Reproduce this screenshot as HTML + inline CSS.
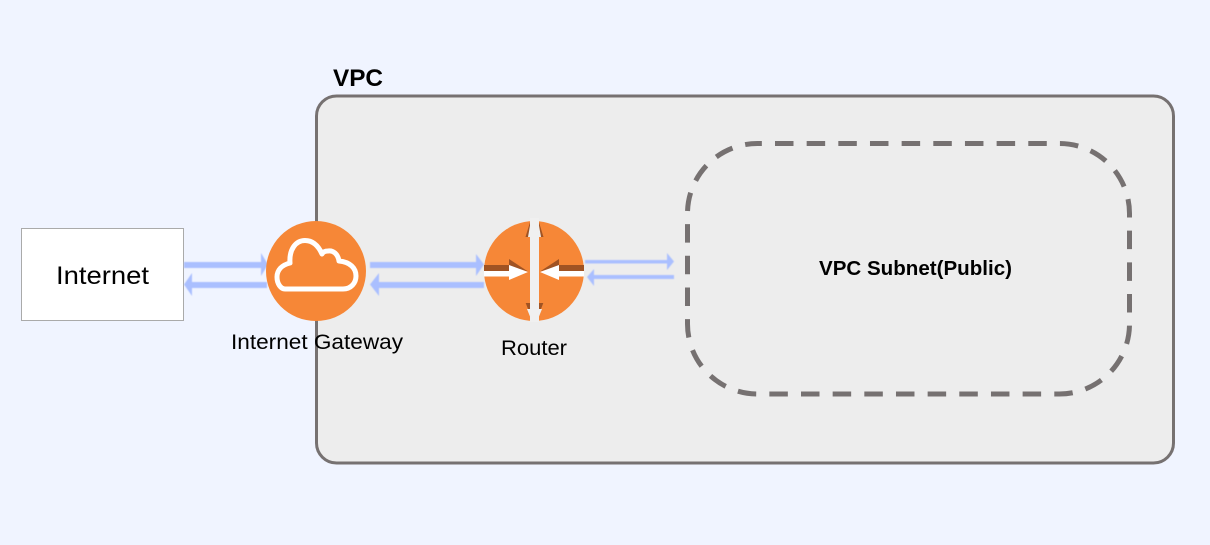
<!DOCTYPE html>
<html>
<head>
<meta charset="utf-8">
<style>
html,body{margin:0;padding:0;background:#f0f4ff;width:1210px;height:545px;overflow:hidden}
svg{display:block}
text{font-family:"Liberation Sans",sans-serif;fill:#000}
</style>
</head>
<body>
<svg width="1210" height="545" viewBox="0 0 1210 545" xmlns="http://www.w3.org/2000/svg">
<defs><filter id="f" x="-5%" y="-20%" width="110%" height="140%"><feGaussianBlur stdDeviation="0.6"/></filter></defs>
<rect width="1210" height="545" fill="#f0f4ff"/>
<rect x="316.5" y="96" width="857" height="367" rx="20" fill="#ededed" stroke="#767171" stroke-width="3"/>
<rect x="687.5" y="143.5" width="442" height="250.500" rx="70" fill="none" stroke="#767171" stroke-width="5" stroke-dasharray="18.500 13.160" stroke-dashoffset="14.160"/>
<text x="333" y="86" font-size="24" font-weight="bold" textLength="50" lengthAdjust="spacingAndGlyphs">VPC</text>
<rect x="21.5" y="228.5" width="162" height="92" fill="#fff" stroke="#aaa" stroke-width="1"/>
<text x="56" y="284" font-size="25" textLength="93" lengthAdjust="spacingAndGlyphs">Internet</text>
<g fill="#aabfff" filter="url(#f)">
<rect x="184" y="262" width="79" height="6"/><polygon points="261,253 268,264.5 261,276"/>
<rect x="190" y="282" width="77" height="6"/><polygon points="192,273 184,284.5 192,296"/>
<rect x="370" y="262" width="108" height="6"/><polygon points="476,254 484,264.5 476,276"/>
<rect x="378" y="282" width="106" height="6"/><polygon points="379,273 370,284.5 379,296"/>
<rect x="585" y="260" width="83" height="3.500"/><polygon points="667,253 674,261.500 667,270"/>
<rect x="593" y="275" width="81" height="4"/><polygon points="594,269 587,277 594,286"/>
</g>
<circle cx="316" cy="271" r="50" fill="#f68737"/>
<path d="M285 289 H343 C351 289 356 283 356 276 C356 268 350 262 339 261 C338 254 333 250 328 251 C325 251 323 252 322 254 C318 245 312 240.500 305 240.500 C296 240.500 289 249 290 263 C282 265 277 270 277 277 C277 284 281 289 285 289 Z" fill="none" stroke="#fff" stroke-width="5" stroke-linejoin="round"/>
<circle cx="534" cy="271" r="50" fill="#f68737"/>
<g fill="#a05323">
<polygon points="530.700,220 525.500,237 528.500,237 531.500,226"/>
<polygon points="538.300,220 543.500,237 540.500,237 537.500,226"/>
<rect x="484" y="265" width="25" height="6"/>
<polygon points="509,259 528,271.500 509,266"/>
<rect x="559" y="265" width="25" height="6"/>
<polygon points="559,259 540,271.500 559,266"/>
<polygon points="525.700,303 531,303 531,309 528,309"/>
<polygon points="543.300,303 538,303 538,309 541,309"/>
</g>
<g fill="#f0f0f0">
<rect x="530" y="218" width="9" height="104"/>
<polygon points="531,220 538,220 541,237 528,237"/>
<polygon points="527,309 542,309 538,319 531,319"/>
</g>
<g fill="#fff">
<rect x="484" y="271" width="25" height="5.500"/>
<polygon points="509,265 528,272 509,280"/>
<rect x="559" y="271" width="25" height="5.500"/>
<polygon points="559,265 540,272 559,280"/>
</g>
<text x="231" y="349" font-size="21" textLength="172" lengthAdjust="spacingAndGlyphs">Internet Gateway</text>
<text x="501" y="355" font-size="21" textLength="66" lengthAdjust="spacingAndGlyphs">Router</text>
<text x="819" y="275" font-size="20" font-weight="bold" textLength="193" lengthAdjust="spacingAndGlyphs">VPC Subnet(Public)</text>
</svg>
</body>
</html>
